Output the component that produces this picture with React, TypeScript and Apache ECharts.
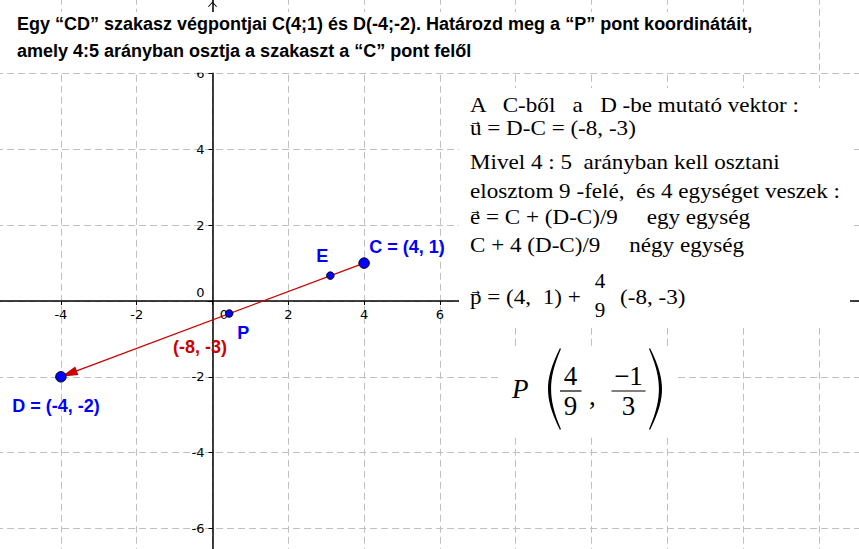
import React, { useEffect, useRef } from 'react';
import * as echarts from 'echarts';

// ---------- canvas / axis geometry ----------
const CANVAS_W = 859;
const CANVAS_H = 549;
const X_MIN = -6;
const X_MAX = 18;
const Y_MIN = -8;
const Y_MAX = 8;
const STEP = 2;
const ORIGIN_X = 212.5;
const ORIGIN_Y = 301;
const UNIT = 37.9;

// ---------- data ----------
const pointNames = ['C', 'D', 'E', 'P'];
const pointXs = [4, -4, 3.11, 0.44];
const pointYs = [1, -2, 0.67, -0.33];
const pointLabelTexts = ['C = (4, 1)', 'D = (-4, -2)', 'E', 'P'];
const pointSizes = [10.5, 10.5, 7.5, 7.5];
const pointLabelOffsets = [[43, -16], [-5, 29], [-8, -20], [14, 19]];

const vectorStart = [4, 1];
const vectorEnd = [-4, -2];
const vectorLabelText = '(-8, -3)';

const xTickLabels = [-4, -2, 0, 2, 4, 6];
const yTickLabels = [-6, -4, -2, 0, 2, 4, 6];

const titleLines = [
  'Egy \u201CCD\u201D szakasz végpontjai C(4;1) és D(-4;-2). Határozd meg a \u201CP\u201D pont koordinátáit,',
  'amely 4:5 arányban osztja a szakaszt a \u201CC\u201D pont felől',
];

const explanationLines = [
  'A   C-ből   a   D -be mutató vektor :',
  'u = D-C = (-8, -3)',
  'Mivel 4 : 5  arányban kell osztani',
  'elosztom 9 -felé,  és 4 egységet veszek :',
  'e = C + (D-C)/9     egy egység',
  'C + 4 (D-C)/9     négy egység',
  'p = (4,  1) +',
];
const explanationHasArrow = [false, true, false, false, true, false, true];
const explanationTail = '(-8, -3)';
const explanationFraction = ['4', '9'];
const resultFractions = [['4', '9'], ['\u22121', '3']];

// ---------- styles ----------
const SANS = '"Liberation Sans", Arial, sans-serif';
const TICK_FONT = '"DejaVu Sans", Verdana, sans-serif';
const SERIF = '"Liberation Serif", "Times New Roman", serif';
const BLUE = '#0000ff';
const RED = '#cc0000';

const PAREN_D =
  'M12,0 C3,18 0,30 0,41 C0,52 3,64 12,82 L12.9,81 C5.6,64 3.1,52 3.1,41 C3.1,30 5.6,18 12.9,1 Z';
let parenRegistered = false;
function ensureParen() {
  if (parenRegistered) return;
  echarts.graphic.registerShape('paren', echarts.graphic.extendPath(PAREN_D, {}) as any);
  parenRegistered = true;
}

function labelFormatter(vals: number[]) {
  return (v: number) => {
    if (!vals.includes(v)) return '';
    return v === 0 ? '{o|0}' : '{n|' + String(v) + '}';
  };
}

function buildGraphic() {
  const Z = 50;
  const els: any[] = [];
  // white boxes
  els.push({ type: 'rect', z: Z, shape: { x: -1, y: 12, width: 791, height: 60.7 }, style: { fill: '#fff' } });
  els.push({ type: 'rect', z: Z, shape: { x: 459, y: 88, width: 391, height: 236 }, style: { fill: '#fff' } });
  els.push({ type: 'rect', z: Z, shape: { x: 498, y: 347, width: 179, height: 89 }, style: { fill: '#fff' } });

  // title
  const titleYs = [24, 50.8];
  titleLines.forEach((t, i) => {
    els.push({
      type: 'text', z: Z + 1, x: 17, y: titleYs[i],
      style: { text: t, fill: '#000', fontFamily: SANS, fontSize: 18, fontWeight: 'bold', align: 'left', verticalAlign: 'middle' },
    });
  });

  // explanation lines
  const lineYs = [105.2, 127.6, 162.2, 191.2, 217, 244.6, 297];
  const arrowYs = [0, 123.2, 0, 0, 212.5, 0, 292.5];
  const arrowXs = [0, 475.8, 0, 0, 475.2, 0, 475.8];
  explanationLines.forEach((t, i) => {
    els.push({
      type: 'text', z: Z + 1, x: 470, y: lineYs[i], scaleX: 1.1,
      style: { text: t, fill: '#000', fontFamily: SERIF, fontSize: 21, align: 'left', verticalAlign: 'middle' },
    });
    if (explanationHasArrow[i]) {
      els.push({
        type: 'text', z: Z + 1, x: arrowXs[i], y: arrowYs[i],
        style: { text: '\u2192', fill: '#000', fontFamily: '"DejaVu Sans", sans-serif', fontSize: 10, align: 'center', verticalAlign: 'middle' },
      });
    }
  });
  // fraction 4/9 in the last line and the tail
  els.push({ type: 'text', z: Z + 1, x: 600, y: 280.5, style: { text: explanationFraction[0], fill: '#000', fontFamily: SERIF, fontSize: 21, align: 'center', verticalAlign: 'middle' } });
  els.push({ type: 'text', z: Z + 1, x: 600, y: 309.5, style: { text: explanationFraction[1], fill: '#000', fontFamily: SERIF, fontSize: 21, align: 'center', verticalAlign: 'middle' } });
  els.push({ type: 'text', z: Z + 1, x: 620, y: 297, scaleX: 1.1, style: { text: explanationTail, fill: '#000', fontFamily: SERIF, fontSize: 21, align: 'left', verticalAlign: 'middle' } });

  // big result P(4/9, -1/3)
  els.push({ type: 'text', z: Z + 1, x: 512, y: 389, style: { text: 'P', fill: '#000', fontFamily: SERIF, fontSize: 27, fontStyle: 'italic', align: 'left', verticalAlign: 'middle' } });
  els.push({ type: 'paren', z: Z + 1, x: 548, y: 348, style: { fill: '#000' } });
  els.push({ type: 'paren', z: Z + 1, x: 662, y: 348, scaleX: -1, style: { fill: '#000' } });
  const fracCx = [570.5, 628.5];
  const barX = [[560, 581.5], [611.5, 645.5]];
  resultFractions.forEach((f, i) => {
    els.push({ type: 'text', z: Z + 1, x: fracCx[i], y: 376, style: { text: f[0], fill: '#000', fontFamily: SERIF, fontSize: 27, align: 'center', verticalAlign: 'middle' } });
    els.push({ type: 'line', z: Z + 1, shape: { x1: barX[i][0], y1: 391, x2: barX[i][1], y2: 391 }, style: { stroke: '#000', lineWidth: 1.2 } });
    els.push({ type: 'text', z: Z + 1, x: fracCx[i], y: 406, style: { text: f[1], fill: '#000', fontFamily: SERIF, fontSize: 27, align: 'center', verticalAlign: 'middle' } });
  });
  els.push({ type: 'text', z: Z + 1, x: 589, y: 396, style: { text: ',', fill: '#000', fontFamily: SERIF, fontSize: 27, align: 'left', verticalAlign: 'middle' } });
  return els;
}

export default function App() {
  const ref = useRef<HTMLDivElement>(null);

  useEffect(() => {
    if (!ref.current) return;
    ensureParen();
    const chart = echarts.init(ref.current, undefined, { renderer: 'svg' });

    const gridLeft = ORIGIN_X + X_MIN * UNIT;
    const gridTop = ORIGIN_Y - Y_MAX * UNIT;
    const gridBottomPx = ORIGIN_Y - Y_MIN * UNIT;
    const gridRightPx = ORIGIN_X + X_MAX * UNIT;

    const axisLabelBase = { color: '#000', fontFamily: TICK_FONT, fontSize: 13, fontWeight: 'normal' };
    const splitLine = { show: true, lineStyle: { color: '#c0c0c0', type: [7, 4], width: 1 } };

    const option: any = {
      animation: false,
      backgroundColor: '#ffffff',
      grid: {
        left: gridLeft,
        right: CANVAS_W - gridRightPx,
        top: gridTop,
        bottom: CANVAS_H - gridBottomPx,
        containLabel: false,
        outerBoundsMode: 'none',
      },
      xAxis: {
        type: 'value', min: X_MIN, max: X_MAX, interval: STEP,
        position: 'bottom',
        offset: -(gridBottomPx - ORIGIN_Y),
        axisLine: { show: true, onZero: false, lineStyle: { color: '#000', width: 1.5 } },
        axisTick: { show: true, length: 4, lineStyle: { color: '#000', width: 1 } },
        axisLabel: {
          ...axisLabelBase, margin: 7, hideOverlap: false,
          formatter: labelFormatter(xTickLabels),
          rich: {
            n: { ...axisLabelBase },
            o: { ...axisLabelBase, padding: [0, 0, 0, 23] },
          },
        },
        splitLine,
      },
      yAxis: {
        type: 'value', min: Y_MIN, max: Y_MAX, interval: STEP,
        position: 'left',
        offset: -(ORIGIN_X - gridLeft),
        axisLine: {
          show: true, onZero: false, lineStyle: { color: '#000', width: 1.5 },
          symbol: ['none', 'path://M0,5 L4.5,0 L9,5 L8.2,5.6 L4.5,1.3 L0.8,5.6 Z'],
          symbolSize: [9, 5.6], symbolOffset: [0, -6.5],
        },
        axisTick: { show: true, length: 4, lineStyle: { color: '#000', width: 1 } },
        axisLabel: {
          ...axisLabelBase, margin: 8, hideOverlap: false,
          formatter: labelFormatter(yTickLabels),
          rich: {
            n: { ...axisLabelBase },
            o: { ...axisLabelBase, padding: [0, 0, 17, 0] },
          },
        },
        splitLine,
      },
      series: [
        {
          type: 'custom',
          z: 3,
          clip: false,
          silent: true,
          data: [[vectorStart[0], vectorStart[1], vectorEnd[0], vectorEnd[1]]],
          encode: { x: [0, 2], y: [1, 3] },
          renderItem: (_params: any, api: any) => {
            const p1 = api.coord([api.value(0), api.value(1)]);
            const p2 = api.coord([api.value(2), api.value(3)]);
            const dx = p2[0] - p1[0];
            const dy = p2[1] - p1[1];
            const len = Math.hypot(dx, dy);
            const ux = dx / len;
            const uy = dy / len;
            const headLen = 17;
            const headW = 4.5;
            const bx = p2[0] - ux * headLen;
            const by = p2[1] - uy * headLen;
            const mid = api.coord([(api.value(0) + api.value(2)) / 2, (api.value(1) + api.value(3)) / 2]);
            return {
              type: 'group',
              children: [
                { type: 'line', shape: { x1: p1[0], y1: p1[1], x2: bx + ux * 3, y2: by + uy * 3 }, style: { stroke: RED, lineWidth: 1.3 } },
                {
                  type: 'polygon',
                  shape: { points: [[p2[0], p2[1]], [bx - uy * headW, by + ux * headW], [bx + uy * headW, by - ux * headW]] },
                  style: { fill: RED },
                },
                {
                  type: 'text', x: mid[0] - 12.5, y: mid[1] + 27.3,
                  style: { text: vectorLabelText, fill: RED, fontFamily: SANS, fontSize: 18, fontWeight: 'bold', align: 'center', verticalAlign: 'middle' },
                },
              ],
            };
          },
        },
        {
          type: 'scatter',
          z: 5,
          silent: true,
          data: pointNames.map((n, i) => ({
            name: n,
            value: [pointXs[i], pointYs[i]],
            symbolSize: pointSizes[i],
            label: { offset: pointLabelOffsets[i] },
          })),
          itemStyle: { color: BLUE, borderColor: '#000', borderWidth: 1, opacity: 1 },
          label: {
            show: true, position: 'inside',
            formatter: (p: any) => pointLabelTexts[p.dataIndex],
            color: BLUE, fontFamily: SANS, fontSize: 18, fontWeight: 'bold',
            textBorderWidth: 0,
          },
          emphasis: { disabled: true },
        },
      ],
      graphic: buildGraphic(),
    };

    chart.setOption(option);
    return () => chart.dispose();
  }, []);

  return (
    <div
      ref={ref}
      style={{ position: 'fixed', left: 0, top: 0, width: CANVAS_W, height: CANVAS_H, background: '#fff' }}
    />
  );
}
